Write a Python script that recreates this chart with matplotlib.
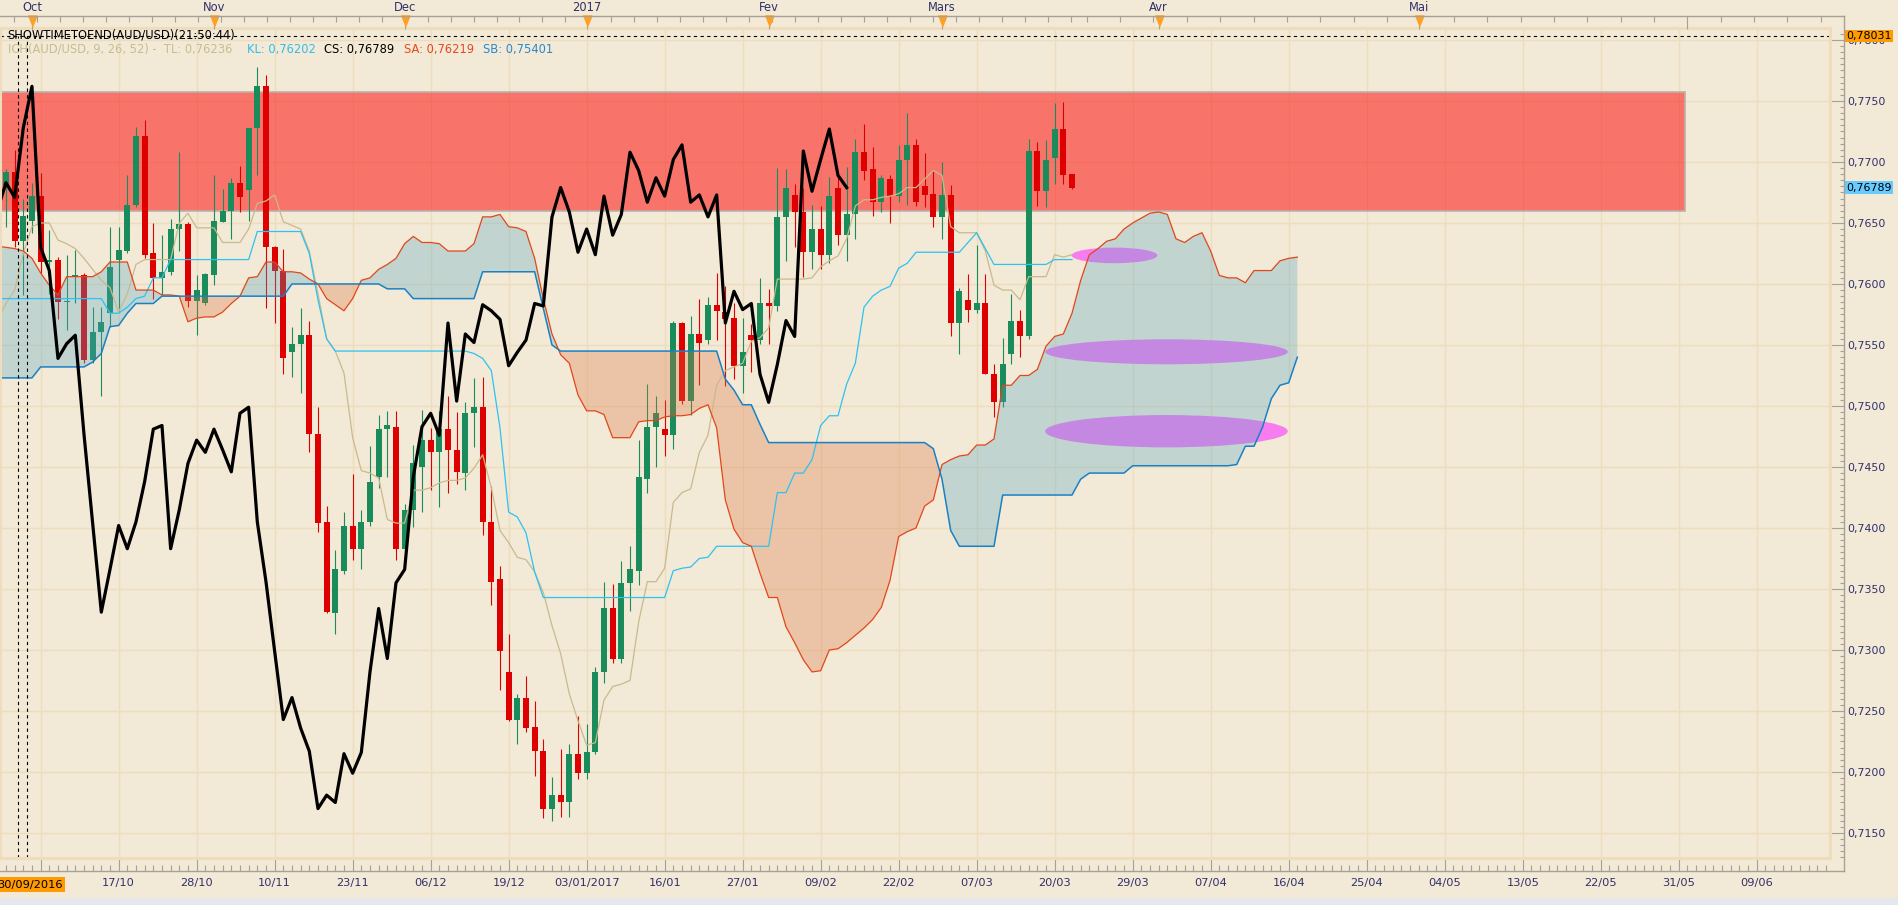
import numpy as np
import matplotlib
matplotlib.use("Agg")
import matplotlib.pyplot as plt
from matplotlib.patches import Ellipse, Rectangle
from matplotlib.lines import Line2D
from matplotlib.ticker import FixedLocator, MultipleLocator, FuncFormatter

plt.rcParams["font.family"] = ["DejaVu Sans"]

# ---- AUD/USD daily candles, bar 0 = 30/09/2016 ----
FIRST_BAR = -2
OPENS = [
    .7681, .7692, .7635, .7652, .7672, .7618, .7620, .7585, .7606, .7607,
    .7538, .7561, .7576, .7620, .7627, .7665, .7721, .7625, .7605, .7610,
    .7645, .7649, .7586, .7584, .7607, .7651, .7660, .7683, .7677, .7728,
    .7762, .7630, .7611, .7544, .7551, .7558, .7477, .7405, .7330, .7365,
    .7402, .7383, .7405, .7442, .7481, .7483, .7383, .7415, .7450, .7472,
    .7462, .7481, .7464, .7445, .7494, .7499, .7405, .7358, .7282, .7243,
    .7261, .7237, .7217, .7170, .7181, .7175, .7215, .7199, .7216, .7282,
    .7334, .7293, .7355, .7365, .7440, .7483, .7481, .7476, .7568, .7504,
    .7559, .7554, .7583, .7577, .7572, .7533, .7558, .7554, .7584, .7582,
    .7655, .7673, .7659, .7626, .7645, .7624, .7679, .7640, .7657, .7708,
    .7694, .7667, .7686, .7672, .7702, .7714, .7680, .7674, .7655, .7673,
    .7568, .7587, .7579, .7584, .7526, .7503, .7543, .7570, .7557, .7709,
    .7676, .7703, .7727, .7690,
]
HIGHS = [
    .7694, .7710, .7670, .7683, .7691, .7644, .7622, .7624, .7628, .7609,
    .7581, .7581, .7647, .7647, .7689, .7729, .7734, .7650, .7640, .7653,
    .7708, .7651, .7607, .7609, .7689, .7678, .7687, .7697, .7728, .7778,
    .7771, .7631, .7629, .7565, .7580, .7570, .7499, .7418, .7382, .7413,
    .7444, .7415, .7467, .7493, .7496, .7496, .7420, .7468, .7497, .7482,
    .7496, .7508, .7495, .7503, .7523, .7524, .7434, .7369, .7313, .7264,
    .7279, .7258, .7227, .7196, .7219, .7223, .7246, .7239, .7286, .7356,
    .7354, .7373, .7385, .7472, .7518, .7508, .7505, .7570, .7569, .7574,
    .7588, .7589, .7609, .7598, .7584, .7572, .7567, .7605, .7596, .7695,
    .7694, .7682, .7679, .7665, .7664, .7688, .7688, .7696, .7719, .7731,
    .7712, .7689, .7689, .7714, .7740, .7719, .7707, .7693, .7700, .7681,
    .7597, .7608, .7632, .7608, .7534, .7556, .7592, .7579, .7719, .7716,
    .7718, .7748, .7749, .7690,
]
LOWS = [
    .7647, .7630, .7591, .7642, .7609, .7592, .7571, .7562, .7584, .7535,
    .7535, .7508, .7565, .7577, .7625, .7663, .7621, .7588, .7591, .7607,
    .7627, .7581, .7558, .7583, .7599, .7651, .7637, .7659, .7652, .7689,
    .7580, .7568, .7526, .7524, .7511, .7462, .7397, .7330, .7313, .7362,
    .7374, .7366, .7402, .7433, .7442, .7374, .7380, .7401, .7413, .7431,
    .7417, .7429, .7436, .7431, .7466, .7394, .7337, .7267, .7242, .7223,
    .7233, .7197, .7162, .7160, .7163, .7163, .7194, .7194, .7215, .7273,
    .7289, .7289, .7332, .7353, .7429, .7450, .7459, .7465, .7502, .7493,
    .7517, .7551, .7554, .7516, .7522, .7511, .7528, .7551, .7551, .7578,
    .7619, .7630, .7606, .7612, .7612, .7617, .7632, .7619, .7637, .7685,
    .7656, .7659, .7650, .7667, .7665, .7664, .7663, .7647, .7637, .7557,
    .7543, .7569, .7576, .7526, .7491, .7499, .7534, .7540, .7555, .7664,
    .7663, .7682, .7682, .7678,
]
CLOSES = [
    .7692, .7635, .7656, .7672, .7618, .7620, .7585, .7586, .7607, .7538,
    .7561, .7569, .7614, .7628, .7665, .7721, .7624, .7605, .7610, .7645,
    .7649, .7586, .7595, .7608, .7652, .7660, .7683, .7671, .7728, .7762,
    .7630, .7611, .7539, .7551, .7558, .7477, .7404, .7331, .7366, .7402,
    .7383, .7405, .7438, .7481, .7484, .7383, .7415, .7453, .7472, .7462,
    .7481, .7464, .7446, .7494, .7499, .7405, .7356, .7299, .7243, .7261,
    .7236, .7217, .7170, .7181, .7175, .7215, .7199, .7216, .7282, .7334,
    .7293, .7355, .7366, .7442, .7483, .7494, .7476, .7568, .7504, .7559,
    .7552, .7583, .7578, .7571, .7533, .7544, .7554, .7584, .7582, .7655,
    .7679, .7659, .7626, .7645, .7624, .7672, .7640, .7657, .7708, .7693,
    .7667, .7687, .7672, .7702, .7714, .7667, .7673, .7655, .7673, .7568,
    .7594, .7579, .7584, .7526, .7503, .7534, .7570, .7557, .7709, .7676,
    .7702, .7727, .7689, .7679,
]

# ---- Ichimoku lines as drawn (first value at bar -3) ----
LINE_START = -3
CHIKOU_SHIFT = 26
TENKAN = [
    .7570, .7584, .7595, .7625, .7647, .7650, .7650, .7636, .7633, .7629,
    .7621, .7612, .7603, .7597, .7577, .7592, .7616, .7620, .7620, .7620,
    .7620, .7650, .7658, .7646, .7646, .7646, .7634, .7634, .7634, .7645,
    .7666, .7668, .7673, .7651, .7648, .7645, .7627, .7592, .7555, .7545,
    .7527, .7474, .7447, .7445, .7441, .7407, .7404, .7404, .7431, .7431,
    .7433, .7437, .7439, .7439, .7441, .7449, .7460, .7433, .7398, .7388,
    .7376, .7374, .7364, .7347, .7320, .7297, .7264, .7242, .7222, .7224,
    .7259, .7270, .7272, .7275, .7323, .7356, .7356, .7367, .7421, .7429,
    .7432, .7462, .7476, .7517, .7529, .7532, .7535, .7553, .7556, .7564,
    .7604, .7604, .7604, .7604, .7605, .7614, .7619, .7623, .7637, .7664,
    .7669, .7669, .7671, .7672, .7674, .7679, .7679, .7686, .7693, .7689,
    .7647, .7642, .7642, .7642, .7627, .7599, .7595, .7595, .7587, .7606,
    .7606, .7606, .7624, .7622, .7624,
]
KIJUN = [
    .7588, .7588, .7588, .7588, .7588, .7588, .7588, .7588, .7588, .7588,
    .7588, .7588, .7588, .7576, .7576, .7581, .7588, .7590, .7605, .7605,
    .7620, .7620, .7620, .7620, .7620, .7620, .7620, .7620, .7620, .7620,
    .7643, .7643, .7643, .7643, .7643, .7643, .7625, .7587, .7555, .7545,
    .7545, .7545, .7545, .7545, .7545, .7545, .7545, .7545, .7545, .7545,
    .7545, .7545, .7545, .7545, .7545, .7543, .7539, .7529, .7482, .7413,
    .7409, .7396, .7364, .7343, .7343, .7343, .7343, .7343, .7343, .7343,
    .7343, .7343, .7343, .7343, .7343, .7343, .7343, .7343, .7365, .7367,
    .7368, .7375, .7376, .7385, .7385, .7385, .7385, .7385, .7385, .7385,
    .7429, .7429, .7445, .7445, .7456, .7484, .7492, .7492, .7518, .7535,
    .7581, .7590, .7595, .7598, .7613, .7617, .7626, .7626, .7626, .7626,
    .7626, .7626, .7634, .7642, .7629, .7616, .7616, .7616, .7616, .7616,
    .7616, .7616, .7620, .7620, .7620,
]
SENKOU_A = [
    .7631, .7630, .7629, .7627, .7621, .7609, .7599, .7591, .7606, .7606,
    .7606, .7606, .7610, .7618, .7618, .7618, .7595, .7595, .7595, .7591,
    .7591, .7590, .7569, .7572, .7573, .7573, .7577, .7584, .7590, .7605,
    .7606, .7618, .7618, .7610, .7610, .7609, .7604, .7600, .7588, .7583,
    .7578, .7588, .7603, .7605, .7612, .7616, .7621, .7633, .7639, .7634,
    .7634, .7633, .7627, .7627, .7627, .7633, .7655, .7655, .7657, .7647,
    .7646, .7643, .7621, .7588, .7559, .7542, .7535, .7509, .7496, .7496,
    .7493, .7474, .7474, .7474, .7487, .7488, .7488, .7491, .7492, .7492,
    .7493, .7498, .7501, .7482, .7423, .7399, .7388, .7385, .7363, .7343,
    .7343, .7319, .7306, .7292, .7282, .7283, .7300, .7301, .7306, .7312,
    .7318, .7325, .7335, .7357, .7393, .7397, .7400, .7418, .7423, .7452,
    .7456, .7459, .7460, .7468, .7468, .7473, .7517, .7517, .7525, .7525,
    .7530, .7549, .7557, .7559, .7576, .7603, .7624, .7629, .7635, .7637,
    .7645, .7650, .7654, .7658, .7659, .7657, .7637, .7634, .7639, .7642,
    .7627, .7607, .7605, .7605, .7601, .7611, .7611, .7611, .7619, .7621,
    .7622,
]
SENKOU_B = [
    .7523, .7523, .7523, .7523, .7523, .7532, .7532, .7532, .7532, .7532,
    .7532, .7536, .7543, .7565, .7566, .7576, .7584, .7584, .7584, .7590,
    .7590, .7590, .7590, .7590, .7590, .7590, .7590, .7590, .7590, .7590,
    .7590, .7590, .7590, .7590, .7600, .7600, .7600, .7600, .7600, .7600,
    .7600, .7600, .7600, .7600, .7600, .7596, .7596, .7596, .7588, .7588,
    .7588, .7588, .7588, .7588, .7588, .7588, .7610, .7610, .7610, .7610,
    .7610, .7610, .7610, .7580, .7550, .7545, .7545, .7545, .7545, .7545,
    .7545, .7545, .7545, .7545, .7545, .7545, .7545, .7545, .7545, .7545,
    .7545, .7545, .7545, .7545, .7522, .7513, .7501, .7501, .7485, .7470,
    .7470, .7470, .7470, .7470, .7470, .7470, .7470, .7470, .7470, .7470,
    .7470, .7470, .7470, .7470, .7470, .7470, .7470, .7470, .7465, .7440,
    .7398, .7385, .7385, .7385, .7385, .7385, .7427, .7427, .7427, .7427,
    .7427, .7427, .7427, .7427, .7427, .7440, .7445, .7445, .7445, .7445,
    .7445, .7451, .7451, .7451, .7451, .7451, .7451, .7451, .7451, .7451,
    .7451, .7451, .7451, .7452, .7467, .7467, .7483, .7506, .7517, .7519,
    .7540,
]

# ---- axis labels ----
# first date tick (04/10) sits under the cursor date tag and shows no label
DATE_LABELS = ["", "17/10", "28/10", "10/11", "23/11", "06/12", "19/12",
               "03/01/2017", "16/01", "27/01", "09/02", "22/02", "07/03",
               "20/03", "29/03", "07/04", "16/04", "25/04", "04/05", "13/05",
               "22/05", "31/05", "09/06"]
MONTH_BARS = [1, 22, 44, 65, 86, 106, 131, 161]
MONTH_LABELS = ["Oct", "Nov", "Dec", "2017", "Fev", "Mars", "Avr", "Mai"]
JUNE_BAR = 192
LAST_REAL_BAR = 121

# ---- drawings on the chart ----
ZONE_LO, ZONE_HI = 0.7660, 0.7757
ZONE_END_BAR = 191.7
ELL_BARS = [125.9, 131.9, 131.9]
ELL_PRICES = [0.76234, 0.75444, 0.74793]
ELL_W = [9.9, 28.0, 28.0]
ELL_H = [0.00128, 0.00205, 0.00265]
CURSOR_BAR = 0
CURSOR_PRICE = 0.78031
LAST_PRICE = 0.76789

# ---- styling ----
W, H = 1899, 905
BG = "#f2ead6"
GRID = "#eedcbf"
BORDER = "#efdcbc"
AXIS = "#a8a094"
LBL = "#30306c"
GREEN = "#1a8b5b"
RED = "#de0000"
PX = 0.72  # points per pixel at dpi 100


def fx(px):
    return px / W


def fy(py):
    return 1 - py / H


fig = plt.figure(figsize=(W / 100, H / 100), dpi=100, facecolor=BG)
ax = fig.add_axes([0, fy(858), fx(1830), (858 - 28) / H])
ax.set_facecolor(BG)
ax.set_xlim(-23.3 / 8.667, (1830 - 23.3) / 8.667)
ax.set_ylim(0.71295, 0.78098)
ax.set_axisbelow(True)

# grid
ax.grid(True, which="major", color=GRID, lw=1.0)

# resistance zone
zone = Rectangle((-10, ZONE_LO), ZONE_END_BAR + 10, ZONE_HI - ZONE_LO,
                 facecolor=(1, 0, 0, 0.5), edgecolor="#b9b2ac", lw=1.2, zorder=1)
ax.add_patch(zone)

# ellipses (drawn under the cloud)
for cx, cy, w, h in zip(ELL_BARS, ELL_PRICES, ELL_W, ELL_H):
    ax.add_patch(Ellipse((cx, cy), w, h, facecolor="#f77cf0",
                         edgecolor="none", zorder=1.5))

# candles
bars = np.arange(FIRST_BAR, FIRST_BAR + len(CLOSES))
o, hi, lo, c = (np.array(v) for v in (OPENS, HIGHS, LOWS, CLOSES))
cols = np.where(c >= o, GREEN, RED)
ax.vlines(bars, lo, hi, colors=cols, lw=0.8, zorder=2)
ax.bar(bars, np.maximum(np.abs(c - o), 0.00009), bottom=np.minimum(o, c),
       width=0.68, color=cols, linewidth=0, zorder=2.1)

# cloud
cb = np.arange(LINE_START, LINE_START + len(SENKOU_A))
sa = np.array(SENKOU_A)
sb = np.array(SENKOU_B)
ax.fill_between(cb, sa, sb, where=sa >= sb, interpolate=True,
                color="#52a4c2", alpha=0.3, lw=0, zorder=3)
ax.fill_between(cb, sa, sb, where=sa < sb, interpolate=True,
                color="#db6f3d", alpha=0.3, lw=0, zorder=3)

lb = np.arange(LINE_START, LINE_START + len(TENKAN))
ax.plot(lb, TENKAN, color="#c9b98d", lw=0.9, zorder=4)
ax.plot(lb, KIJUN, color="#2cc2f2", lw=0.9, zorder=4)
ax.plot(cb, sa, color="#e2461a", lw=0.9, zorder=4)
ax.plot(cb, sb, color="#1a80c6", lw=1.1, zorder=4)

# chikou span = closes moved back 26 bars
ax.plot(bars - CHIKOU_SHIFT, c, color="black", lw=2.3, zorder=5)

# cursor cross
ax.axhline(CURSOR_PRICE, color="black", lw=0.8, ls=(0, (3, 3)), zorder=6)
ax.vlines([CURSOR_BAR - 0.58, CURSOR_BAR + 0.47], 0.71295, CURSOR_PRICE,
          colors="black", lw=0.8, linestyles=(0, (3, 3)), zorder=6)

# plot border
ax.add_patch(Rectangle((0, 0), 1, 1, transform=ax.transAxes, fill=False,
                       edgecolor=BORDER, lw=2.2, clip_on=False, zorder=7))
for s in ax.spines.values():
    s.set_color("none")

# ---- price axis (right) ----
ax.yaxis.set_ticks_position("right")
ax.spines["right"].set_position(("outward", 14 * PX))
ax.yaxis.set_major_locator(MultipleLocator(0.005))
ax.yaxis.set_minor_locator(MultipleLocator(0.0005))
ax.yaxis.set_major_formatter(FuncFormatter(lambda v, p: f"{v:.4f}".replace(".", ",")))
ax.tick_params(axis="y", which="major", direction="in", length=14 * PX,
               width=0.8, color=AXIS, labelsize=7.9, labelcolor=LBL, pad=2.5)
ax.tick_params(axis="y", which="minor", direction="in", length=4 * PX,
               width=0.8, color=AXIS)

# ---- date axis (bottom) ----
ax.spines["bottom"].set_position(("outward", 13 * PX))
ax.xaxis.set_major_locator(FixedLocator(np.arange(2, 2 + 9 * len(DATE_LABELS), 9)))
ax.set_xticklabels(DATE_LABELS)
ax.xaxis.set_minor_locator(MultipleLocator(1))
ax.tick_params(axis="x", which="major", direction="in", length=12 * PX,
               width=0.8, color=AXIS, labelsize=8.2, labelcolor=LBL, pad=5)
ax.tick_params(axis="x", which="minor", direction="in", length=6 * PX,
               width=0.8, color=AXIS)

# ---- month axis (top) ----
ax2 = ax.twiny()
ax2.set_xlim(ax.get_xlim())
for s in ax2.spines.values():
    s.set_color("none")
ax2.spines["top"].set_position(("outward", 12.3 * PX))
ax2.xaxis.set_major_locator(FixedLocator(MONTH_BARS + [JUNE_BAR]))
ax2.set_xticklabels(MONTH_LABELS + [""])
top_minor = np.concatenate([np.arange(44 - 17 * 2.65, LAST_REAL_BAR, 2.65),
                            np.arange(JUNE_BAR - 18 * 3.85, 209, 3.85)])
ax2.xaxis.set_minor_locator(FixedLocator(top_minor))
ax2.tick_params(axis="x", which="major", direction="in", length=12.5 * PX,
                width=0.8, color=AXIS, labelsize=8.3, labelcolor=LBL, pad=1.5)
ax2.tick_params(axis="x", which="minor", direction="in", length=6 * PX,
                width=0.8, color=AXIS)
ax2.plot(MONTH_BARS, [1 + 7 / 830] * len(MONTH_BARS),
         transform=ax2.get_xaxis_transform(), ls="none",
         marker=[(-0.8, 1), (0.8, 1), (0, -1)], ms=11 * PX,
         color="#ffa022", clip_on=False, zorder=8)

# frame lines of the axis strips
for xs, ys in (([0, 1844], [15.7, 15.7]), ([1844, 1844], [15.7, 871]),
               ([0, 1844], [871, 871])):
    fig.add_artist(Line2D([fx(v) for v in xs], [fy(v) for v in ys],
                          color=AXIS, lw=1.0))

# price tags on the right axis
for price, face in ((CURSOR_PRICE, "#ff9a00"), (LAST_PRICE, "#66ccff")):
    ax.text(1 + 16 / 1830, price, f"{price:.5f}".replace(".", ","),
            transform=ax.get_yaxis_transform(), ha="left", va="center",
            fontsize=7.9, color="black", clip_on=False, zorder=9,
            bbox=dict(boxstyle="square,pad=0.12", fc=face, ec="none"))

# cursor date tag
fig.text(fx(-3), fy(884.5), "30/09/2016", ha="left", va="center",
         fontsize=8.2, color="black",
         bbox=dict(boxstyle="square,pad=0.2", fc="#ff9a00", ec="none"))

# indicator legend
fig.text(fx(7.7), fy(35.5), "SHOWTIMETOEND(AUD/USD)(21:50:44)", ha="left",
         va="center", fontsize=8.3, color="black")
legend_parts = [(7.7, "ICH(AUD/USD, 9, 26, 52) -  TL: 0,76236", "#c8bc90"),
                (247, "KL: 0,76202", "#33bbee"),
                (324, "CS: 0,76789", "black"),
                (404, "SA: 0,76219", "#e8481c"),
                (483, "SB: 0,75401", "#2a88cc")]
for xp, txt, col in legend_parts:
    fig.text(fx(xp), fy(49.5), txt, ha="left", va="center", fontsize=8.3,
             color=col)

# bottom strip
fig.add_artist(Rectangle((0, 0), 1, fy(898), transform=fig.transFigure,
                         facecolor="#e6e6ee", edgecolor="none"))

fig.savefig("out.png", dpi=100, facecolor=BG)
